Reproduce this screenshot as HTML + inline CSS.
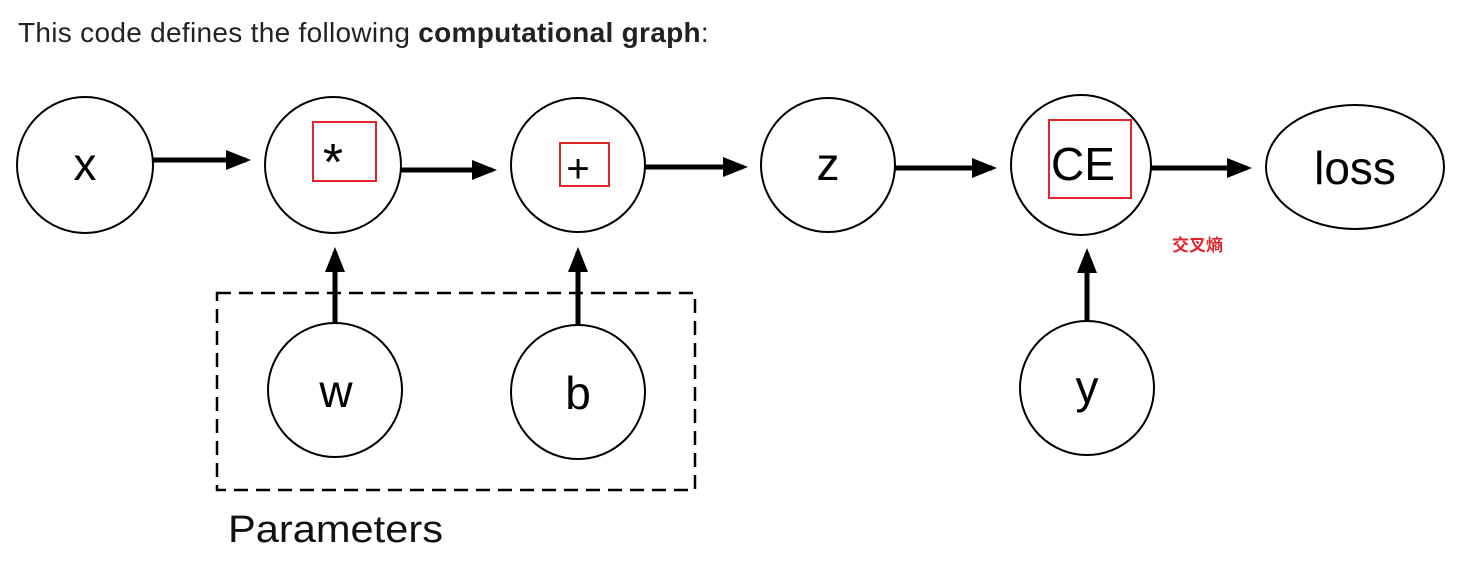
<!DOCTYPE html>
<html><head><meta charset="utf-8"><style>
html,body{margin:0;padding:0;background:#fff;width:1458px;height:585px;overflow:hidden}
.t{position:absolute;left:18px;top:17px;font:28px "Liberation Sans",sans-serif;color:#222;letter-spacing:0.3px;white-space:nowrap}
svg{position:absolute;left:0;top:0}
</style></head><body>
<div class="t">This code defines the following <b>computational graph</b>:</div>
<svg width="1458" height="585" font-family="Liberation Sans, sans-serif">
<defs><marker id="ah" markerWidth="5" markerHeight="4" refX="4" refY="2" orient="auto" markerUnits="strokeWidth"><path d="M0,0 L5,2 L0,4z" fill="#000"/></marker></defs>
<g fill="#fff" stroke="#000" stroke-width="2">
<circle cx="85" cy="165" r="68"/>
<circle cx="333" cy="165" r="68"/>
<circle cx="578" cy="165" r="67"/>
<circle cx="828" cy="165" r="67"/>
<circle cx="1081" cy="165" r="70"/>
<ellipse cx="1355" cy="167" rx="89" ry="62"/>
<circle cx="335" cy="390" r="67"/>
<circle cx="578" cy="392" r="67"/>
<circle cx="1087" cy="388" r="67"/>
</g>
<g stroke="#000" stroke-width="5" marker-end="url(#ah)">
<line x1="153" y1="160" x2="246" y2="160"/>
<line x1="401" y1="170" x2="492" y2="170"/>
<line x1="645" y1="167" x2="743" y2="167"/>
<line x1="895" y1="168" x2="992" y2="168"/>
<line x1="1151" y1="168" x2="1247" y2="168"/>
<line x1="335" y1="323" x2="335" y2="252"/>
<line x1="578" y1="325" x2="578" y2="252"/>
<line x1="1087" y1="322" x2="1087" y2="253"/>
</g>
<rect x="217" y="293" width="478" height="197" fill="none" stroke="#000" stroke-width="2.5" stroke-dasharray="14,8"/>
<g fill="none" stroke="#e0262b" stroke-width="2">
<rect x="313" y="122" width="63" height="59"/>
<rect x="560" y="143" width="49" height="43"/>
<rect x="1049" y="120" width="82" height="78"/>
</g>
<g font-size="46" text-anchor="middle" fill="#000">
<text x="85" y="180">x</text>
<text x="333" y="180" font-size="52">*</text>
<text x="578" y="182" font-size="40">+</text>
<text x="828" y="180">z</text>
<text x="1083" y="180">CE</text>
<text x="1355" y="184">loss</text>
<text x="336" y="407">w</text>
<text x="578" y="409">b</text>
<text x="1087" y="403">y</text>
</g>
<text x="228" y="542" font-size="38" textLength="215" lengthAdjust="spacingAndGlyphs" fill="#111">Parameters</text>
<text x="1172" y="251" font-size="17" font-weight="bold" fill="#e0262b" font-family="Liberation Sans, Noto Sans CJK SC, sans-serif">交叉熵</text>
</svg>
</body></html>
